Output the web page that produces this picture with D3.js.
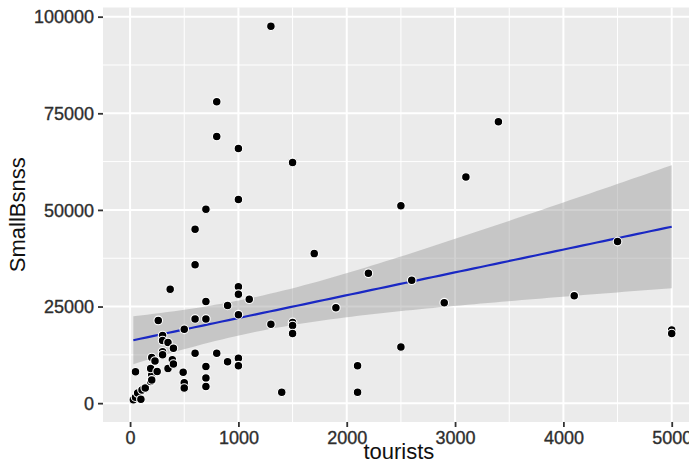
<!DOCTYPE html>
<html>
<head>
<meta charset="utf-8">
<script src="https://cdn.jsdelivr.net/npm/d3@7"></script>
<style>
  html, body { margin: 0; padding: 0; background: #fff; }
  svg { display: block; }
</style>
</head>
<body>
<svg id="chart" width="689" height="465"></svg>
<script>
// ---- data ----
const tourists = [
  30, 50, 70, 100, 110, 140, 50, 190, 200, 200, 190, 200, 230, 250, 260,
  300, 300, 300, 300, 350, 350, 370, 400, 390, 400, 500, 490, 500, 500,
  600, 600, 600, 600, 700, 700, 700, 700, 700, 700, 800, 800, 800, 900, 900,
  1000, 1000, 1000, 1000, 1000, 1000, 1000, 1100, 1300, 1300, 1400, 1500,
  1500, 1500, 1500, 1700, 1900, 2100, 2100, 2200, 2500, 2500, 2600, 2900,
  3100, 3400, 4100, 4500, 5000, 5000
];
const smallBsnss = [
  850, 1550, 2600, 1000, 3400, 3900, 8100, 5600, 7300, 6000, 9000, 11800, 10900, 8200, 21400,
  17500, 16200, 13300, 12500, 15700, 9000, 29500, 14200, 11200, 10100, 19100, 8000, 5300, 3900,
  45000, 35800, 21800, 12900, 50200, 26300, 21800, 9500, 6500, 4300, 78000, 69000, 12900, 25300, 10700,
  65900, 52700, 30100, 28200, 22900, 11600, 9700, 26900, 97500, 20400, 2800, 62300,
  20900, 20100, 18000, 38700, 24700, 9700, 2800, 33600, 51100, 14500, 31800, 26000,
  58500, 72800, 27800, 41800, 18900, 18000
];
const xTicks = [0, 1000, 2000, 3000, 4000, 5000];
const yTicks = [0, 25000, 50000, 75000, 100000];
const xMinor = [500, 1500, 2500, 3500, 4500];
const yMinor = [12500, 37500, 62500, 87500];
const xTitle = "tourists";
const yTitle = "SmallBsnss";

const points = tourists.map((t, i) => ({ x: t, y: smallBsnss[i] }));

// ---- linear model (geom_smooth method = "lm") ----
const n = points.length;
const mx = d3.mean(points, d => d.x);
const my = d3.mean(points, d => d.y);
const sxx = d3.sum(points, d => (d.x - mx) ** 2);
const sxy = d3.sum(points, d => (d.x - mx) * (d.y - my));
const slope = sxy / sxx;
const intercept = my - slope * mx;
const sse = d3.sum(points, d => (d.y - intercept - slope * d.x) ** 2);
const sigma = Math.sqrt(sse / (n - 2));
const tCrit = 1.994; // t(0.975, df ~ 70)
const xExt = d3.extent(points, d => d.x);
const fit = d3.range(80).map(i => {
  const x = xExt[0] + (xExt[1] - xExt[0]) * i / 79;
  const yhat = intercept + slope * x;
  const se = sigma * Math.sqrt(1 / n + (x - mx) ** 2 / sxx);
  return { x, y: yhat, lo: yhat - tCrit * se, hi: yhat + tCrit * se };
});

// ---- layout ----
const svg = d3.select("#chart");
const panel = { left: 103, right: 698.8, top: 7.5, bottom: 422 };

const x = d3.scaleLinear().domain([-250, 5250]).range([panel.left, panel.right]);
const y = d3.scaleLinear().domain([-4875, 102375]).range([panel.bottom, panel.top]);

// panel background
svg.append("rect")
  .attr("x", panel.left).attr("y", panel.top)
  .attr("width", panel.right - panel.left).attr("height", panel.bottom - panel.top)
  .attr("fill", "#EBEBEB");

const grid = svg.append("g");
// minor grid
grid.selectAll(".xmin").data(xMinor).join("line")
  .attr("x1", d => x(d)).attr("x2", d => x(d))
  .attr("y1", panel.top).attr("y2", panel.bottom)
  .attr("stroke", "#fff").attr("stroke-width", 1);
grid.selectAll(".ymin").data(yMinor).join("line")
  .attr("y1", d => y(d)).attr("y2", d => y(d))
  .attr("x1", panel.left).attr("x2", panel.right)
  .attr("stroke", "#fff").attr("stroke-width", 1);
// major grid
grid.selectAll(".xmaj").data(xTicks).join("line")
  .attr("x1", d => x(d)).attr("x2", d => x(d))
  .attr("y1", panel.top).attr("y2", panel.bottom)
  .attr("stroke", "#fff").attr("stroke-width", 2);
grid.selectAll(".ymaj").data(yTicks).join("line")
  .attr("y1", d => y(d)).attr("y2", d => y(d))
  .attr("x1", panel.left).attr("x2", panel.right)
  .attr("stroke", "#fff").attr("stroke-width", 2);

// confidence band
svg.append("path")
  .datum(fit)
  .attr("d", d3.area().x(d => x(d.x)).y0(d => y(d.lo)).y1(d => y(d.hi)))
  .attr("fill", "#999999").attr("fill-opacity", 0.45);

// fitted line
svg.append("path")
  .datum(fit)
  .attr("d", d3.line().x(d => x(d.x)).y(d => y(d.y)))
  .attr("fill", "none").attr("stroke", "#1a28c4").attr("stroke-width", 2.2);

// points
svg.append("g").selectAll("circle").data(points).join("circle")
  .attr("cx", d => x(d.x)).attr("cy", d => y(d.y))
  .attr("r", 4.3)
  .attr("fill", "#000").attr("stroke", "#fff").attr("stroke-width", 1.1);

// axes
const fontFam = "'Liberation Sans', Arial, sans-serif";
const xAxis = svg.append("g")
  .attr("transform", `translate(0,${panel.bottom})`)
  .call(d3.axisBottom(x).tickValues(xTicks).tickFormat(d3.format("d")).tickSize(5).tickPadding(3));
const yAxis = svg.append("g")
  .attr("transform", `translate(${panel.left},0)`)
  .call(d3.axisLeft(y).tickValues(yTicks).tickFormat(d3.format("d")).tickSize(5).tickPadding(4));
[xAxis, yAxis].forEach(a => {
  a.select(".domain").remove();
  a.selectAll(".tick line").attr("stroke", "#333").attr("stroke-width", 1.8);
  a.selectAll(".tick text")
    .attr("fill", "#2e2e2e")
    .attr("stroke", "#2e2e2e").attr("stroke-width", 0.35)
    .style("font-family", fontFam)
    .style("font-size", "18px");
});
xAxis.selectAll(".tick text").attr("dy", "0.75em");
yAxis.selectAll(".tick text").attr("dy", "0.35em");

// titles
svg.append("text")
  .attr("x", (panel.left + panel.right) / 2 - 2).attr("y", 459)
  .attr("text-anchor", "middle")
  .style("font-family", fontFam).style("font-size", "22px").attr("fill", "#111")
  .text(xTitle);
svg.append("text")
  .attr("transform", `translate(25,${(panel.top + panel.bottom) / 2}) rotate(-90)`)
  .attr("text-anchor", "middle")
  .style("font-family", fontFam).style("font-size", "22px").attr("fill", "#111")
  .text(yTitle);
</script>
</body>
</html>
